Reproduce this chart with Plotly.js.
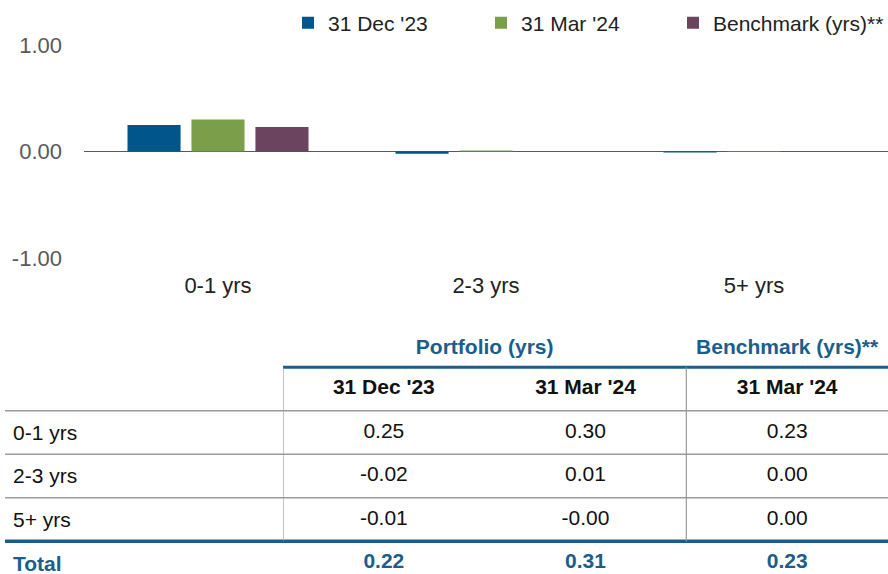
<!DOCTYPE html>
<html>
<head>
<meta charset="utf-8">
<script src="https://cdn.plot.ly/plotly-3.0.1.min.js"></script>
<style>
html,body{margin:0;padding:0;background:#fff;}
#chart{width:888px;height:574px;}
</style>
</head>
<body>
<div id="chart"></div>
<script>
// ---- data ----
const categories = ["0-1 yrs", "2-3 yrs", "5+ yrs"];
const seriesNames = ["31 Dec '23", "31 Mar '24", "Benchmark (yrs)**"];
const dec23 = [0.25, -0.02, -0.01];
const mar24 = [0.30, 0.01, -0.004];
const benchmark = [0.23, 0.00, 0.00];
const totals = [0.22, 0.31, 0.23];
const groupHeaders = ["Portfolio (yrs)", "Benchmark (yrs)**"];
const columnHeaders = ["31 Dec '23", "31 Mar '24", "31 Mar '24"];
const totalLabel = "Total";
const yTicks = [-1, 0, 1];

// ---- styles ----
const FONT = "Liberation Sans, Arial, sans-serif";
const colors = ["#00568A", "#7A9E4A", "#6B4460"];
const headBlue = "#1B5E8C";
const W = 888, H = 574;
const px = v => v / W;
const py = v => 1 - v / H;
const TF = 21;
const legendIds = ["legend", "legend2", "legend3"];
const legendLeft = [288, 481, 673];

const series = [dec23, mar24, benchmark];
const traces = series.map((vals, i) => ({
  type: "bar",
  name: seriesNames[i],
  x: categories,
  y: vals,
  legend: legendIds[i],
  marker: {color: colors[i], line: {width: 0}},
  xaxis: "x", yaxis: "y",
  hoverinfo: "none"
}));

// ---- table as text on its own axes ----
// columns 1..3, rows: -1 group header, 0 column header, 1..3 data, 4 total
const colX = [1, 2, 3];
const valX = [], valY = [], valT = [];
series.forEach((vals, c) => {
  vals.forEach((v, r) => {
    valX.push(colX[c]); valY.push(r + 1);
    valT.push(v.toFixed(2));
  });
});
traces.push({
  type: "scatter", mode: "text", x: valX, y: valY, text: valT,
  textfont: {family: FONT, size: TF, color: "#111"},
  xaxis: "x2", yaxis: "y2", showlegend: false, hoverinfo: "none"
});
traces.push({
  type: "scatter", mode: "text", x: colX, y: colX.map(() => 0), text: columnHeaders,
  texttemplate: "<b>%{text}</b>",
  textfont: {family: FONT, size: TF, color: "#111"},
  xaxis: "x2", yaxis: "y2", showlegend: false, hoverinfo: "none"
});
traces.push({
  type: "scatter", mode: "text", x: colX, y: colX.map(() => 4), text: totals.map(v => v.toFixed(2)),
  texttemplate: "<b>%{text}</b>",
  textfont: {family: FONT, size: TF, color: headBlue},
  xaxis: "x2", yaxis: "y2", showlegend: false, hoverinfo: "none"
});
traces.push({
  type: "scatter", mode: "text", x: [1.5, 3], y: [-0.93, -0.93], text: groupHeaders,
  texttemplate: "<b>%{text}</b>",
  textfont: {family: FONT, size: TF, color: headBlue},
  xaxis: "x2", yaxis: "y2", showlegend: false, hoverinfo: "none"
});

const annotations = [];
categories.forEach((c, r) => {
  annotations.push({xref: "paper", yref: "y2", x: px(11), y: r + 1, xanchor: "left", yanchor: "middle",
    text: c, showarrow: false, font: {family: FONT, size: TF, color: "#111"}});
});
annotations.push({xref: "paper", yref: "y2", x: px(11), y: 4, xanchor: "left", yanchor: "middle",
  text: "<b>" + totalLabel + "</b>", showarrow: false, font: {family: FONT, size: TF, color: headBlue}});

const gray = "#9a9a9a";
const shapes = [
  {type: "line", xref: "paper", yref: "y2", x0: px(283), x1: 1, y0: -0.5, y1: -0.5, line: {color: headBlue, width: 3}},
  {type: "line", xref: "paper", yref: "y2", x0: px(5), x1: 1, y0: 0.5, y1: 0.5, line: {color: gray, width: 1.5}},
  {type: "line", xref: "paper", yref: "y2", x0: px(5), x1: 1, y0: 1.5, y1: 1.5, line: {color: gray, width: 1.5}},
  {type: "line", xref: "paper", yref: "y2", x0: px(5), x1: 1, y0: 2.5, y1: 2.5, line: {color: gray, width: 1.5}},
  {type: "line", xref: "paper", yref: "y2", x0: px(5), x1: 1, y0: 3.5, y1: 3.5, line: {color: headBlue, width: 3.5}},
  {type: "line", xref: "x2", yref: "y2", x0: 0.5, x1: 0.5, y0: -0.5, y1: 3.5, line: {color: gray, width: 1.2}},
  {type: "line", xref: "x2", yref: "y2", x0: 2.5, x1: 2.5, y0: -0.5, y1: 3.5, line: {color: gray, width: 1.2}}
];

const rowPx = 43.5, row0 = 389, topPx = row0 - 1.5 * rowPx;

const layout = {
  width: W, height: H,
  margin: {l: 0, r: 0, t: 0, b: 0, pad: 0, autoexpand: false},
  paper_bgcolor: "#fff", plot_bgcolor: "rgba(0,0,0,0)",
  font: {family: FONT, size: 20, color: "#222"},
  barmode: "group", bargap: 0.284, bargroupgap: 0.17,
  showlegend: true,
  xaxis: {domain: [px(84), 1], anchor: "y", showgrid: false, zeroline: false, showline: false,
    ticks: "", tickfont: {family: FONT, size: 22, color: "#222"}, ticklabelstandoff: 12, fixedrange: true},
  yaxis: {domain: [py(258), py(45)], anchor: "x", range: [-1, 1], tickvals: yTicks,
    ticktext: yTicks.map(v => v.toFixed(2)),
    showgrid: true, gridcolor: "#a6a6a6", gridwidth: 1.2, zeroline: true, zerolinecolor: "#595959", zerolinewidth: 1.5,
    showline: false, ticks: "", tickfont: {family: FONT, size: 22, color: "#595959"}, ticklabelstandoff: 21, fixedrange: true},
  xaxis2: {domain: [px(283), 1], anchor: "y2", range: [0.5, 3.5], visible: false, fixedrange: true},
  yaxis2: {domain: [0, py(topPx)], anchor: "x2", range: [(H - row0) / rowPx, -1.5], visible: false, fixedrange: true},
  shapes: shapes,
  annotations: annotations
};
legendIds.forEach((id, i) => {
  layout[id] = {orientation: "h", x: px(legendLeft[i]), xanchor: "left", y: py(23), yanchor: "middle",
    font: {family: FONT, size: 21, color: "#222"}, bgcolor: "rgba(0,0,0,0)", itemclick: false};
});

Plotly.newPlot("chart", traces, layout, {staticPlot: true, displayModeBar: false});
</script>
</body>
</html>
